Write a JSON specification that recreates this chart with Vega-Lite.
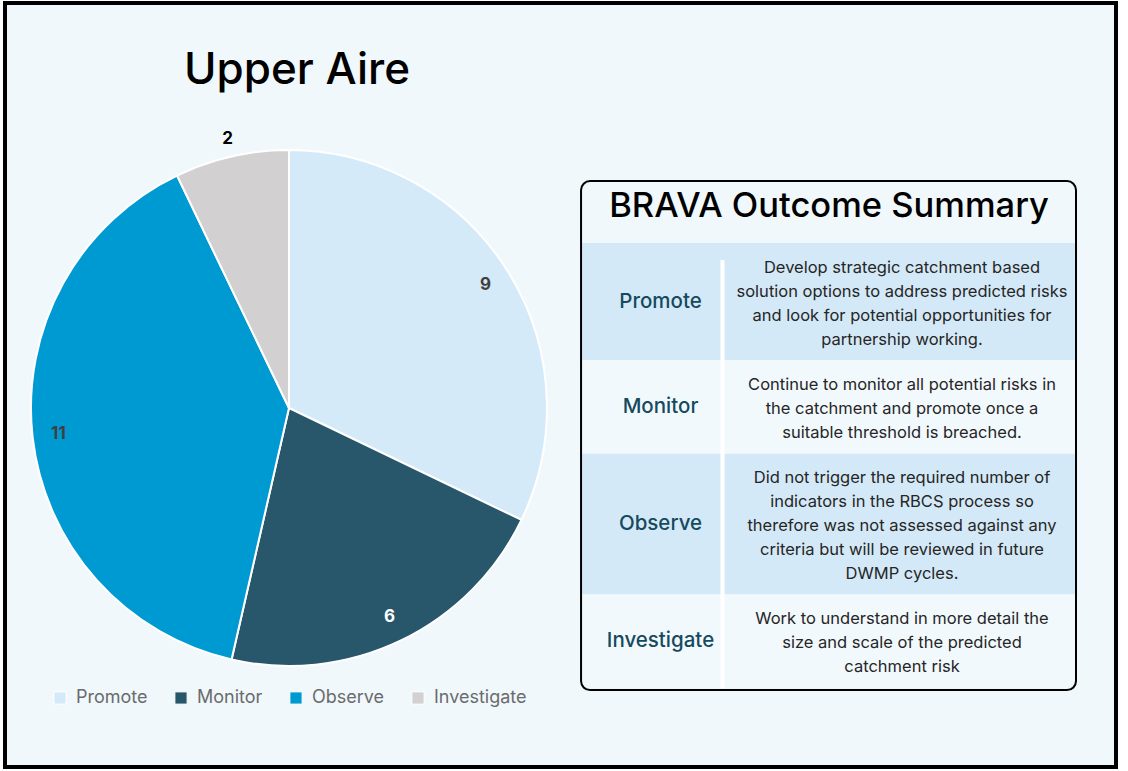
{
  "$schema": "https://vega.github.io/schema/vega-lite/v6.json",
  "width": 1128,
  "height": 771,
  "autosize": {"type": "fit", "contains": "padding"},
  "padding": {"left": 5, "top": 3, "right": 12, "bottom": 4},
  "background": "white",
  "config": {
    "view": {"fill": "#f0f8fc", "stroke": "#000000", "strokeWidth": 4},
    "font": "Inter",
    "text": {"font": "Inter"}
  },
  "datasets": {
    "outcomes": [
      {"outcome": "Promote", "count": 9, "order": 1, "description": "Develop strategic catchment based\nsolution options to address predicted risks\nand look for potential opportunities for\npartnership working."},
      {"outcome": "Monitor", "count": 6, "order": 2, "description": "Continue to monitor all potential risks in\nthe catchment and promote once a\nsuitable threshold is breached."},
      {"outcome": "Observe", "count": 11, "order": 3, "description": "Did not trigger the required number of\nindicators in the RBCS process so\ntherefore was not assessed against any\ncriteria but will be reviewed in future\nDWMP cycles."},
      {"outcome": "Investigate", "count": 2, "order": 4, "description": "Work to understand in more detail the\nsize and scale of the predicted\ncatchment risk"}
    ]
  },
  "data": {"name": "outcomes"},
  "resolve": {"scale": {"y": "independent"}},
  "layer": [
    {
      "layer": [
        {
          "mark": {"type": "arc", "outerRadius": 258, "stroke": "white", "strokeWidth": 2},
          "encoding": {
            "theta": {"field": "count", "type": "quantitative", "stack": true},
            "order": {"field": "order", "type": "quantitative"},
            "color": {
              "field": "outcome", "type": "nominal",
              "sort": ["Promote", "Monitor", "Observe", "Investigate"],
              "scale": {"domain": ["Promote", "Monitor", "Observe", "Investigate"], "range": ["#d4eaf8", "#28566a", "#009ad3", "#d3d0d1"]},
              "legend": {"title": null, "orient": "none", "legendX": 46, "legendY": 686, "direction": "horizontal", "symbolType": "square", "symbolSize": 150, "labelFontSize": 18, "labelColor": "#6b6b6b", "labelFont": "Inter", "columnPadding": 24, "labelOffset": 7, "symbolStrokeColor": "white", "symbolStrokeWidth": 1}
            },
            "x": {"datum": 25.56, "type": "quantitative", "scale": {"domain": [0, 100], "nice": false, "zero": false}, "axis": null},
            "y": {"datum": 53.01, "type": "quantitative", "scale": {"domain": [0, 100], "nice": false, "zero": false, "reverse": true}, "axis": null}
          }
        },
        {
          "transform": [
            {"stack": "count", "groupby": [], "sort": [{"field": "order", "order": "ascending"}], "as": ["c0", "c1"]},
            {"calculate": "(datum.c0 + datum.c1) / 2", "as": "cmid"}
          ],
          "layer": [
            {
              "transform": [{"filter": "datum.outcome !== 'Investigate'"}],
              "mark": {"type": "text", "radius": 232, "fontSize": 17, "fontWeight": "bold", "align": "center", "baseline": "middle"},
              "encoding": {
                "theta": {"field": "cmid", "type": "quantitative", "stack": null},
                "text": {"field": "count", "type": "quantitative"},
                "color": {"condition": {"test": "datum.outcome === 'Monitor'", "value": "#ffffff"}, "value": "#404040"},
                "x": {"datum": 25.56, "type": "quantitative", "scale": {"domain": [0, 100], "nice": false, "zero": false}, "axis": null},
                "y": {"datum": 53.01, "type": "quantitative", "scale": {"domain": [0, 100], "nice": false, "zero": false, "reverse": true}, "axis": null}
              }
            },
            {
              "transform": [{"filter": "datum.outcome === 'Investigate'"}],
              "mark": {"type": "text", "radius": 276, "fontSize": 17, "fontWeight": "bold", "align": "center", "baseline": "middle", "color": "#000000"},
              "encoding": {
                "theta": {"field": "cmid", "type": "quantitative", "stack": null},
                "text": {"field": "count", "type": "quantitative"},
                "x": {"datum": 25.56, "type": "quantitative", "scale": {"domain": [0, 100], "nice": false, "zero": false}, "axis": null},
                "y": {"datum": 53.01, "type": "quantitative", "scale": {"domain": [0, 100], "nice": false, "zero": false, "reverse": true}, "axis": null}
              }
            }
          ]
        },
        {
          "data": {"values": [{"label": "Upper Aire"}]},
          "mark": {"type": "text", "fontSize": 44, "fontWeight": 500, "align": "center", "baseline": "alphabetic", "color": "#000000"},
          "encoding": {
            "text": {"field": "label", "type": "nominal"},
            "x": {"datum": 26.28, "type": "quantitative", "scale": {"domain": [0, 100], "nice": false, "zero": false}, "axis": null},
            "y": {"datum": 10.6, "type": "quantitative", "scale": {"domain": [0, 100], "nice": false, "zero": false, "reverse": true}, "axis": null}
          }
        }
      ]
    },
    {
      "layer": [
        {
          "transform": [
            {"calculate": "length(split(datum.description, '\\n')) + 1", "as": "span"},
            {"stack": "span", "groupby": [], "sort": [{"field": "order", "order": "ascending"}], "as": ["r0", "r1"]},
            {"calculate": "(datum.r0 + datum.r1) / 2", "as": "rmid"},
            {"calculate": "datum.r0 + 1.05", "as": "firstLine"}
          ],
          "layer": [
            {
              "mark": {"type": "rect", "strokeWidth": 0},
              "encoding": {
                "x": {"datum": 51.85, "type": "quantitative", "scale": {"domain": [0, 100], "nice": false, "zero": false}, "axis": null},
                "x2": {"datum": 96.4},
                "y": {"field": "r0", "type": "quantitative", "scale": {"domain": [-10.25, 22.37], "nice": false, "zero": false, "reverse": true}, "axis": null},
                "y2": {"field": "r1"},
                "fill": {"condition": {"test": "datum.order % 2 === 1", "value": "#d4e9f7"}, "value": "#f2f9fd"}
              }
            },
            {
              "mark": {"type": "text", "fontSize": 20.5, "fontWeight": 500, "align": "center", "baseline": "middle", "color": "#164a5e"},
              "encoding": {
                "text": {"field": "outcome", "type": "nominal"},
                "x": {"datum": 59.0, "type": "quantitative", "scale": {"domain": [0, 100], "nice": false, "zero": false}, "axis": null},
                "y": {"field": "rmid", "type": "quantitative", "scale": {"domain": [-10.25, 22.37], "nice": false, "zero": false, "reverse": true}, "axis": null}
              }
            },
            {
              "mark": {"type": "text", "fontSize": 16.5, "lineBreak": "\n", "lineHeight": 24, "align": "center", "baseline": "middle", "color": "#262626"},
              "encoding": {
                "text": {"field": "description", "type": "nominal"},
                "x": {"datum": 80.74, "type": "quantitative", "scale": {"domain": [0, 100], "nice": false, "zero": false}, "axis": null},
                "y": {"field": "firstLine", "type": "quantitative", "scale": {"domain": [-10.25, 22.37], "nice": false, "zero": false, "reverse": true}, "axis": null}
              }
            }
          ]
        },
        {
          "data": {"values": [{}]},
          "mark": {"type": "rule", "color": "#ffffff", "strokeWidth": 4},
          "encoding": {
            "x": {"datum": 64.58, "type": "quantitative", "scale": {"domain": [0, 100], "nice": false, "zero": false}, "axis": null},
            "y": {"datum": 0.726, "type": "quantitative", "scale": {"domain": [-10.25, 22.37], "nice": false, "zero": false, "reverse": true}, "axis": null},
            "y2": {"datum": 19.0}
          }
        },
        {
          "data": {"values": [{"label": "BRAVA Outcome Summary"}]},
          "mark": {"type": "text", "fontSize": 34.5, "fontWeight": 500, "align": "center", "baseline": "alphabetic", "color": "#000000"},
          "encoding": {
            "text": {"field": "label", "type": "nominal"},
            "x": {"datum": 74.17, "type": "quantitative", "scale": {"domain": [0, 100], "nice": false, "zero": false}, "axis": null},
            "y": {"datum": -1.11, "type": "quantitative", "scale": {"domain": [-10.25, 22.37], "nice": false, "zero": false, "reverse": true}, "axis": null}
          }
        },
        {
          "data": {"values": [{}]},
          "mark": {"type": "rect", "filled": false, "stroke": "#000000", "strokeWidth": 2, "cornerRadius": 9},
          "encoding": {
            "x": {"datum": 51.85, "type": "quantitative", "scale": {"domain": [0, 100], "nice": false, "zero": false}, "axis": null},
            "x2": {"datum": 96.4},
            "y": {"datum": -2.647, "type": "quantitative", "scale": {"domain": [-10.25, 22.37], "nice": false, "zero": false, "reverse": true}, "axis": null},
            "y2": {"datum": 19.085}
          }
        }
      ]
    }
  ]
}
